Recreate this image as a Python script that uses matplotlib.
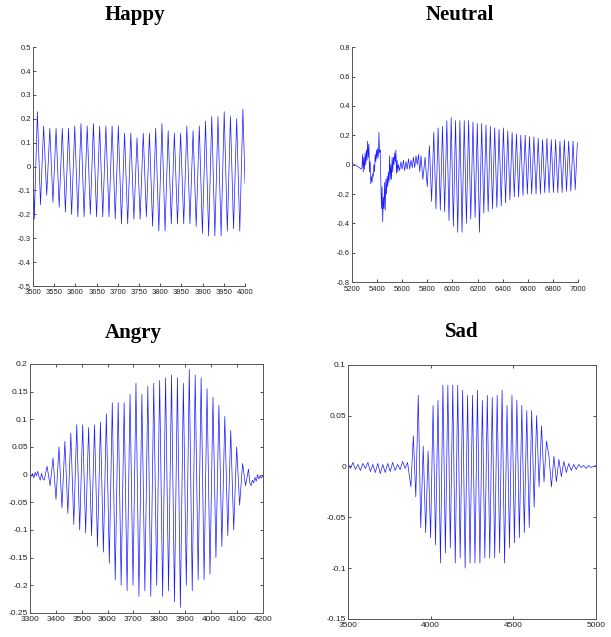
import numpy as np
import matplotlib
matplotlib.use("Agg")
import matplotlib.pyplot as plt
from matplotlib.ticker import FuncFormatter

# ---- Happy ----
happy_peaks = [0.23, 0.17, 0.16, 0.16, 0.16, 0.16, 0.17, 0.18, 0.17, 0.18, 0.17, 0.17,
               0.17, 0.17, 0.14, 0.14, 0.12, 0.14, 0.14, 0.16, 0.18, 0.15, 0.14, 0.14,
               0.17, 0.15, 0.17, 0.19, 0.21, 0.21, 0.23, 0.21, 0.20, 0.24]
happy_troughs = [-0.22, -0.16, -0.12, -0.15, -0.17, -0.19, -0.20, -0.21, -0.21, -0.20,
                 -0.21, -0.21, -0.21, -0.22, -0.24, -0.24, -0.22, -0.22, -0.21, -0.25,
                 -0.27, -0.27, -0.24, -0.24, -0.24, -0.24, -0.25, -0.28, -0.29, -0.29,
                 -0.29, -0.27, -0.26, -0.27]
happy_edges = [0.05, -0.07]

# ---- Neutral ----
neutral_noise_x = [5200, 5210, 5220, 5230, 5240, 5250, 5260, 5270, 5280, 5285, 5290, 5295,
                   5300, 5305, 5310, 5315, 5320, 5325, 5330, 5335, 5340, 5345, 5350, 5355,
                   5360, 5365, 5370, 5375, 5380, 5385, 5390, 5395, 5400, 5405, 5410, 5415,
                   5420, 5425, 5430, 5435, 5440, 5445, 5450, 5455, 5460, 5465, 5470, 5475,
                   5480, 5485, 5490, 5495, 5500, 5505, 5510, 5515, 5520, 5525, 5530, 5535,
                   5540, 5545, 5550, 5555, 5560, 5565, 5570, 5580, 5590, 5600, 5610, 5620,
                   5630, 5640, 5650, 5660, 5670, 5680, 5690, 5700, 5710, 5720, 5730, 5740,
                   5750]
neutral_noise_y = [0.01, 0.005, 0.0, -0.005, -0.01, -0.015, -0.02, -0.03, -0.02, 0.07, -0.05, 0.05,
                   -0.03, 0.08, 0.0, 0.10, 0.03, 0.16, 0.05, 0.14, -0.05, 0.02, -0.13, -0.08,
                   -0.12, -0.06, -0.08, 0.0, -0.05, 0.07, 0.02, 0.10, 0.04, 0.11, 0.05, 0.22,
                   0.08, 0.10, -0.12, -0.30, -0.15, -0.39, -0.22, -0.30, -0.12, -0.31, -0.10, -0.20,
                   -0.08, -0.15, -0.05, -0.12, 0.06, -0.10, 0.0, -0.10, 0.05, -0.05, 0.05, 0.0,
                   0.08, 0.02, 0.10, -0.06, 0.03, -0.05, 0.0, -0.04, 0.02, -0.03, 0.03, -0.04,
                   0.02, -0.03, 0.04, -0.03, 0.03, -0.02, 0.05, -0.02, 0.06, 0.0, 0.07, -0.05,
                   0.06]
neutral_peaks = [0.05, 0.13, 0.22, 0.25, 0.26, 0.30, 0.32, 0.30, 0.30, 0.30, 0.30, 0.29,
                 0.28, 0.28, 0.27, 0.26, 0.25, 0.24, 0.25, 0.23, 0.22, 0.21, 0.20, 0.20,
                 0.19, 0.19, 0.18, 0.17, 0.18, 0.17, 0.17, 0.16, 0.17, 0.16, 0.16, 0.15]
neutral_troughs = [-0.10, -0.15, -0.25, -0.30, -0.31, -0.32, -0.38, -0.42, -0.46, -0.46,
                   -0.40, -0.37, -0.36, -0.46, -0.33, -0.32, -0.30, -0.29, -0.28, -0.26,
                   -0.24, -0.22, -0.22, -0.21, -0.20, -0.20, -0.20, -0.20, -0.19, -0.19,
                   -0.19, -0.19, -0.19, -0.18, -0.18, -0.17]

# ---- Angry ----
angry_head = [0.0, -0.003, 0.002, -0.006, 0.004, -0.002, 0.006, -0.004, -0.01, 0.002, -0.008]
angry_peaks = [0.015, 0.03, 0.05, 0.06, 0.075, 0.09, 0.09, 0.085, 0.09, 0.095, 0.11, 0.13,
               0.13, 0.13, 0.145, 0.165, 0.145, 0.16, 0.165, 0.17, 0.175, 0.18, 0.175, 0.165,
               0.19, 0.18, 0.175, 0.155, 0.14, 0.125, 0.105, 0.08, 0.05, 0.02, 0.01]
angry_troughs = [-0.01, -0.02, -0.045, -0.06, -0.07, -0.09, -0.10, -0.105, -0.11, -0.13,
                 -0.14, -0.16, -0.19, -0.20, -0.21, -0.20, -0.22, -0.21, -0.22, -0.20,
                 -0.22, -0.21, -0.23, -0.24, -0.20, -0.21, -0.19, -0.19, -0.18, -0.15,
                 -0.13, -0.11, -0.10, -0.055, -0.02]
angry_tail = [-0.015, -0.02, -0.01, -0.015, -0.005, -0.012, 0.0, -0.008, -0.002, -0.006, -0.003]

# ---- Sad ----
sad_head = [0.003, -0.002, 0.004, -0.003, 0.002, -0.004, 0.003, -0.002, 0.004, -0.005,
            0.002, -0.006, 0.003, -0.007, 0.002, -0.006, 0.003, -0.005, 0.004, -0.004,
            0.002, -0.003, 0.005, -0.002, 0.004]
sad_peaks = [0.03, 0.07, 0.02, 0.015, 0.06, 0.065, 0.08, 0.08, 0.08, 0.08, 0.075, 0.07,
             0.07, 0.075, 0.065, 0.07, 0.068, 0.07, 0.075, 0.06, 0.07, 0.065, 0.06, 0.055,
             0.055, 0.05, 0.04, 0.025]
sad_troughs = [-0.02, -0.03, -0.06, -0.065, -0.07, -0.077, -0.095, -0.085, -0.08, -0.095,
               -0.09, -0.10, -0.095, -0.095, -0.095, -0.09, -0.09, -0.09, -0.085, -0.095,
               -0.08, -0.075, -0.07, -0.065, -0.06, -0.04, -0.02, -0.015]
sad_tail = [0.01, -0.02, 0.01, -0.015, 0.007, -0.01, 0.005, -0.006, 0.003, -0.004,
            0.002, -0.003, 0.002, -0.001, 0.001, -0.002, 0.001, -0.001, 0.0, 0.001]


def zigzag(troughs, peaks, x0, x1):
    y = np.empty(len(troughs) + len(peaks))
    y[0::2] = troughs
    y[1::2] = peaks
    x = np.linspace(x0, x1, len(y))
    return x, y


tick_font = ['Liberation Sans Narrow', 'Liberation Sans', 'DejaVu Sans']
fmt = FuncFormatter(lambda v, p: f"{v:g}" if abs(v) > 1e-9 else "0")
line_kw = dict(color='#1a1aff', lw=0.5)

fig = plt.figure(figsize=(6.11, 6.37), dpi=100)


def style(ax, boxed, size):
    for lab in ax.get_xticklabels() + ax.get_yticklabels():
        lab.set_family(tick_font)
    ax.tick_params(labelsize=size, length=2.5, width=0.6, colors='#333333',
                   direction='in', pad=1.5, labelcolor='#222222')
    ax.tick_params(axis='x', pad=2.5)
    ax.xaxis.set_major_formatter(fmt)
    ax.yaxis.set_major_formatter(fmt)
    for s in ax.spines.values():
        s.set_color('#555555')
        s.set_linewidth(0.7)
    if boxed:
        ax.tick_params(top=True, right=True)
    else:
        ax.spines['top'].set_visible(False)
        ax.spines['right'].set_visible(False)


# Happy
ax = fig.add_axes([0.054, 0.551, 0.347, 0.375])
x, y = zigzag(happy_troughs, happy_peaks, 3503, 3995)
x = np.concatenate([[3500], x, [4000]])
y = np.concatenate([[happy_edges[0]], y, [happy_edges[1]]])
ax.plot(x, y, **line_kw)
ax.set_xlim(3500, 4000)
ax.set_ylim(-0.5, 0.5)
ax.set_xticks(np.arange(3500, 4001, 50))
ax.set_yticks(np.arange(-0.5, 0.51, 0.1))
style(ax, False, 5.5)

# Neutral
ax = fig.add_axes([0.576, 0.557, 0.370, 0.369])
x, y = zigzag(neutral_troughs, neutral_peaks, 5765, 6995)
x = np.concatenate([neutral_noise_x, x])
y = np.concatenate([neutral_noise_y, y])
ax.plot(x, y, **line_kw)
ax.set_xlim(5200, 7000)
ax.set_ylim(-0.8, 0.8)
ax.set_xticks(np.arange(5200, 7001, 200))
ax.set_yticks(np.arange(-0.8, 0.81, 0.2))
style(ax, False, 5.5)

# Angry
ax = fig.add_axes([0.049, 0.0377, 0.381, 0.391])
x, y = zigzag(angry_troughs, angry_peaks, 3355, 4145)
x = np.concatenate([np.linspace(3300, 3350, len(angry_head)), x,
                    np.linspace(4150, 4200, len(angry_tail))])
y = np.concatenate([angry_head, y, angry_tail])
ax.plot(x, y, **line_kw)
ax.set_xlim(3300, 4200)
ax.set_ylim(-0.25, 0.2)
ax.set_xticks(np.arange(3300, 4201, 100))
ax.set_yticks(np.arange(-0.25, 0.201, 0.05))
style(ax, True, 6)

# Sad
ax = fig.add_axes([0.5696, 0.0283, 0.406, 0.399])
x, y = zigzag(sad_troughs, sad_peaks, 3880, 4700)
x = np.concatenate([np.linspace(3500, 3860, len(sad_head)), x,
                    np.linspace(4715, 5000, len(sad_tail))])
y = np.concatenate([sad_head, y, sad_tail])
ax.plot(x, y, **line_kw)
ax.set_xlim(3500, 5000)
ax.set_ylim(-0.15, 0.1)
ax.set_xticks([3500, 4000, 4500, 5000])
ax.set_yticks(np.arange(-0.15, 0.101, 0.05))
style(ax, True, 6)

title_kw = dict(family=['Liberation Serif', 'DejaVu Serif'], weight='bold', fontsize=15,
                ha='center', va='center')
fig.text(135 / 611, 1 - 15 / 637, 'Happy', **title_kw)
fig.text(460 / 611, 1 - 15 / 637, 'Neutral', **title_kw)
fig.text(133 / 611, 1 - 333 / 637, 'Angry', **title_kw)
fig.text(462 / 611, 1 - 332 / 637, 'Sad', **title_kw)

fig.savefig('out.png', dpi=100, facecolor='white')
